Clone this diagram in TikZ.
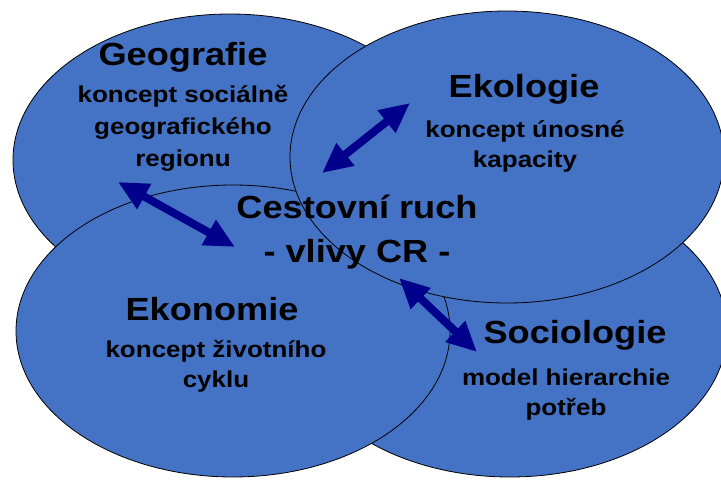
\documentclass[tikz,border=0pt]{standalone}
\usepackage{fontspec}
\setmainfont{Liberation Sans}[FakeStretch=1.13]
\usetikzlibrary{shapes.geometric,arrows.meta}
\definecolor{ovalblue}{RGB}{68,114,196}
\definecolor{linknavy}{RGB}{0,0,140}

\begin{document}
\begin{tikzpicture}[x=1pt, y=-1pt,
        oval/.style={ellipse, draw=black, fill=ovalblue, line width=0.8pt,
            minimum width=434pt, minimum height=292pt, inner sep=0pt},
        title/.style={anchor=base, font=\bfseries\fontsize{32}{38}\selectfont},
        sub/.style={anchor=base, font=\bfseries\fontsize{23}{27}\selectfont},
        link/.style={linknavy, line width=8pt,
            {Triangle[width=27pt,length=30pt]}-{Triangle[width=27pt,length=30pt]}}
    ]

    \useasboundingbox (0,0) rectangle (721,480);

    % the four fields
    \node[oval] (geo) at (230,160) {};
    \node[oval] (soc) at (510,331) {};
    \node[oval] (ekon) at (233,331) {};
    \node[oval] (ekol) at (507,157) {};

    % Geografie
    \node[title] (geoT) at (183,65) {Geografie};
    \node[sub] (geoA) at (183,102) {koncept sociálně};
    \node[sub] (geoB) at (183,134) {geografického};
    \node[sub] (geoC) at (183,166) {regionu};

    % Ekologie
    \node[title] (ekolT) at (524,97) {Ekologie};
    \node[sub] (ekolA) at (525,137) {koncept únosné};
    \node[sub] (ekolB) at (525,167) {kapacity};

    % Ekonomie
    \node[title] (ekonT) at (212,320) {Ekonomie};
    \node[sub] (ekonA) at (216,357) {koncept životního};
    \node[sub] (ekonB) at (216,387) {cyklu};

    % Sociologie
    \node[title] (socT) at (575,343) {Sociologie};
    \node[sub] (socA) at (566,385) {model hierarchie};
    \node[sub] (socB) at (566,415) {potřeb};

    % centre
    \node[title] (cr) at (357,218) {Cestovní ruch};
    \node[title] (crB) at (357,262) {- vlivy CR -};

    % arrow ends
    \coordinate (geoEnd) at (118,182);
    \coordinate (crGeo) at (235,247);
    \coordinate (crEkol) at (322,173);
    \coordinate (ekolEnd) at (410,103);
    \coordinate (crSoc) at (399,278);
    \coordinate (socEnd) at (477,352);

    \draw[link] (geoEnd) -- (crGeo);
    \draw[link] (crEkol) -- (ekolEnd);
    \draw[link] (crSoc) -- (socEnd);

\end{tikzpicture}
\end{document}
